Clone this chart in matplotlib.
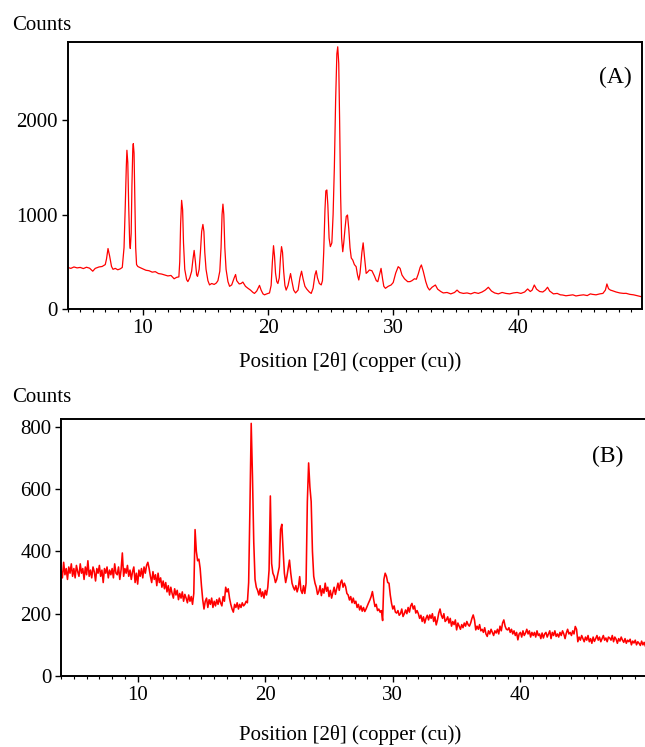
import numpy as np
import matplotlib
matplotlib.use('Agg')
import matplotlib.pyplot as plt
from matplotlib.ticker import MultipleLocator

plt.rcParams['font.family'] = ['Liberation Serif', 'DejaVu Serif']

#------------
# (A) pattern
two_theta_a = [4.0, 4.25, 4.5, 4.75, 5.0, 5.25, 5.5, 5.75, 6.0, 6.2, 6.5, 6.75, 7.0, 7.1, 7.22, 7.35, 7.5, 7.62,
               7.8, 8.0, 8.2, 8.36, 8.5, 8.6, 8.68, 8.73, 8.8, 8.87, 8.95, 9.0, 9.07, 9.13, 9.2, 9.24, 9.3, 9.37,
               9.43, 9.5, 9.6, 9.75, 10.0, 10.25, 10.5, 10.75, 11.0, 11.25, 11.5, 11.75, 12.0, 12.25, 12.5, 12.7,
               12.88, 12.95, 13.02, 13.1, 13.18, 13.25, 13.35, 13.5, 13.6, 13.75, 13.9, 14.0, 14.1, 14.2, 14.3,
               14.37, 14.5, 14.6, 14.7, 14.8, 14.88, 14.95, 15.05, 15.2, 15.33, 15.5, 15.7, 15.87, 16.0, 16.15,
               16.25, 16.33, 16.4, 16.47, 16.55, 16.65, 16.8, 16.93, 17.1, 17.3, 17.41, 17.5, 17.7, 17.85, 17.99,
               18.2, 18.39, 18.6, 18.8, 18.92, 19.1, 19.32, 19.45, 19.6, 19.72, 19.9, 20.12, 20.25, 20.35, 20.44,
               20.52, 20.6, 20.7, 20.79, 20.9, 21.0, 21.08, 21.16, 21.25, 21.35, 21.45, 21.6, 21.8, 21.9, 22.05,
               22.2, 22.4, 22.55, 22.68, 22.8, 22.95, 23.1, 23.3, 23.45, 23.6, 23.75, 23.85, 23.95, 24.1, 24.25,
               24.35, 24.45, 24.55, 24.62, 24.7, 24.78, 24.88, 24.98, 25.1, 25.2, 25.3, 25.4, 25.5, 25.57, 25.65,
               25.72, 25.8, 25.88, 25.97, 26.05, 26.15, 26.25, 26.35, 26.45, 26.55, 26.65, 26.77, 26.9, 27.04,
               27.15, 27.25, 27.35, 27.5, 27.6, 27.7, 27.84, 27.95, 28.1, 28.3, 28.5, 28.65, 28.77, 28.9, 29.03,
               29.15, 29.25, 29.38, 29.6, 29.83, 30.0, 30.2, 30.4, 30.55, 30.7, 30.9, 31.16, 31.35, 31.5, 31.7,
               31.85, 32.0, 32.15, 32.25, 32.4, 32.6, 32.75, 32.9, 33.1, 33.37, 33.55, 33.8, 34.0, 34.3, 34.6,
               34.9, 35.1, 35.3, 35.6, 35.9, 36.2, 36.5, 36.8, 37.1, 37.35, 37.6, 37.85, 38.1, 38.4, 38.7, 39.0,
               39.3, 39.6, 39.9, 40.2, 40.5, 40.74, 40.95, 41.1, 41.27, 41.45, 41.7, 41.95, 42.15, 42.33, 42.5,
               42.8, 43.1, 43.35, 43.53, 43.8, 44.1, 44.35, 44.6, 44.9, 45.2, 45.5, 45.75, 45.92, 46.2, 46.5,
               46.75, 46.95, 47.07, 47.2, 47.35, 47.5, 47.8, 48.1, 48.4, 48.6, 48.9, 49.2, 49.5, 49.8]
counts_a = [440, 430, 445, 435, 440, 428, 442, 432, 400, 430, 445, 450, 470, 530, 640, 560, 450, 420,
            430, 415, 425, 440, 650, 1100, 1500, 1680, 1550, 1100, 700, 640, 800, 1300, 1700, 1750, 1650, 1100,
            650, 470, 450, 440, 425, 410, 405, 390, 395, 375, 370, 360, 350, 355, 320, 335,
            340, 500, 900, 1150, 1050, 700, 420, 310, 290, 330, 400, 520, 620, 500, 360,
            345, 420, 600, 820, 895, 820, 600, 420, 300, 255, 270, 260, 275, 300, 400,
            650, 1000, 1110, 1000, 650, 420, 290, 240, 255, 330, 365, 300, 265, 270, 285,
            240, 220, 200, 175, 165, 190, 250, 200, 160, 150, 160, 170, 250, 500, 670,
            560, 380, 290, 270, 330, 550, 660, 600, 400, 250, 200, 250, 375, 300, 200,
            170, 200, 330, 400, 320, 240, 210, 180, 165, 220, 360, 405, 330, 270, 255,
            300, 600, 1050, 1250, 1260, 1100, 750, 660, 700, 1000, 1500, 2200, 2700, 2775, 2600,
            2000, 1200, 750, 606, 700, 850, 980, 995, 850, 650, 540, 518, 470, 448,
            360, 307, 380, 600, 700, 560, 377, 390, 413, 405, 350, 300, 289, 360, 430,
            320, 240, 219, 240, 254, 280, 380, 448, 430, 360, 320, 289, 290, 300, 320,
            315, 370, 440, 466, 400, 290, 230, 201, 230, 254, 210, 185, 170, 175, 160,
            175, 200, 175, 165, 170, 160, 175, 165, 180, 200, 230, 190, 170, 160, 175, 165,
            160, 170, 175, 165, 180, 212, 185, 200, 254, 210, 185, 180, 200, 230, 190,
            160, 165, 150, 148, 140, 145, 150, 138, 145, 150, 142, 160, 155, 150, 160,
            165, 200, 265, 215, 200, 194, 180, 170, 165, 166, 155, 150, 140, 131]

#------------
# (B) pattern, 0.1 degree steps, one row per degree (4.0 .. 49.9) + 50.0
two_theta_b = np.round(np.arange(4.0, 50.05, 0.1), 2)
counts_b = [
    340, 315, 365, 325, 345, 310, 350, 330, 360, 320,   # 4
    345, 315, 355, 335, 320, 360, 330, 345, 310, 350,   # 5
    325, 370, 320, 340, 315, 350, 335, 305, 345, 330,   # 6
    355, 320, 340, 300, 345, 330, 350, 315, 340, 325,   # 7
    345, 315, 360, 330, 325, 350, 310, 340, 395, 320,   # 8
    345, 330, 355, 320, 340, 310, 335, 350, 300, 330,   # 9
    295, 340, 320, 345, 315, 350, 330, 355, 365, 345,   # 10
    320, 300, 335, 310, 325, 290, 330, 300, 315, 285,   # 11
    305, 280, 300, 270, 290, 260, 285, 265, 250, 280,   # 12
    260, 275, 245, 265, 250, 270, 240, 262, 250, 235,   # 13
    260, 240, 255, 230, 265, 470, 400, 370, 375, 345,   # 14
    290, 245, 215, 240, 250, 220, 245, 230, 250, 220,   # 15
    240, 225, 245, 230, 250, 235, 225, 255, 240, 285,   # 16
    270, 280, 250, 230, 215, 205, 230, 220, 235, 215,   # 17
    230, 220, 235, 225, 230, 240, 235, 300, 540, 811,   # 18
    640, 430, 310, 285, 275, 260, 280, 255, 270, 250,   # 19
    275, 260, 285, 340, 578, 361, 330, 320, 300, 310,   # 20
    330, 350, 470, 487, 404, 330, 300, 320, 345, 372,   # 21
    330, 298, 285, 276, 290, 270, 285, 319, 275, 265,   # 22
    290, 265, 298, 560, 684, 607, 560, 400, 320, 298,   # 23
    285, 262, 271, 290, 258, 280, 266, 298, 272, 285,   # 24
    255, 275, 250, 268, 285, 262, 280, 298, 275, 300,   # 25
    308, 285, 298, 287, 265, 260, 244, 255, 235, 250,   # 26
    233, 240, 220, 230, 212, 225, 208, 220, 207, 215,   # 27
    225, 235, 244, 255, 271, 245, 223, 230, 210, 215,   # 28
    205, 210, 178, 310, 330, 320, 300, 298, 260, 233,   # 29
    215, 225, 205, 202, 210, 195, 200, 215, 191, 200,   # 30
    212, 200, 220, 205, 225, 233, 215, 225, 202, 210,   # 31
    200, 185, 195, 175, 190, 170, 185, 195, 180, 196,   # 32
    185, 200, 175, 190, 164, 180, 202, 215, 195, 185,   # 33
    200, 175, 180, 190, 170, 185, 160, 175, 165, 180,   # 34
    148, 170, 160, 150, 165, 155, 170, 160, 175, 165,   # 35
    160, 170, 185, 196, 180, 148, 160, 150, 165, 145,   # 36
    150, 140, 155, 135, 127, 145, 135, 150, 140, 130,   # 37
    145, 138, 150, 135, 160, 145, 170, 180, 160, 150,   # 38
    148, 155, 140, 150, 135, 145, 130, 140, 116, 135,   # 39
    140, 125, 145, 130, 138, 150, 135, 145, 125, 140,   # 40
    130, 140, 125, 145, 130, 135, 120, 138, 122, 135,   # 41
    140, 125, 135, 145, 120, 140, 130, 145, 127, 135,   # 42
    125, 140, 130, 145, 135, 120, 138, 150, 135, 140,   # 43
    130, 145, 135, 159, 150, 110, 125, 115, 130, 120,   # 44
    110, 125, 115, 130, 110, 120, 105, 125, 111, 120,   # 45
    130, 115, 125, 110, 120, 130, 115, 122, 110, 125,   # 46
    122, 115, 130, 110, 125, 118, 105, 120, 112, 125,   # 47
    115, 108, 120, 105, 115, 110, 118, 100, 112, 106,   # 48
    115, 100, 110, 105, 98, 112, 100, 108, 95, 100,     # 49
    102]

W, H = 645, 747
fig = plt.figure(figsize=(W/100, H/100), dpi=100)

ax_a = fig.add_axes([67.7/W, 1-309/H, (641.7-67.7)/W, (309-41.7)/H])
ax_b = fig.add_axes([61.1/W, 1-676/H, (648-61.1)/W, (676-419)/H])

ax_a.plot(two_theta_a, counts_a, color='#ff0000', lw=0.9)
ax_b.plot(two_theta_b, counts_b, color='#ff0000', lw=1.15)

ax_a.set_xlim(4, 49.85)
ax_a.set_ylim(0, 2829)
ax_a.set_yticks([0, 1000, 2000])
ax_b.set_xlim(4, 50)
ax_b.set_ylim(0, 825)
ax_b.set_yticks([0, 200, 400, 600, 800])

for ax in (ax_a, ax_b):
    ax.set_xticks([10, 20, 30, 40])
    ax.xaxis.set_minor_locator(MultipleLocator(1))
    ax.tick_params(which='major', length=4, width=1, labelsize=15, pad=3)
    ax.tick_params(which='minor', length=2, width=0.8)
    for s in ax.spines.values():
        s.set_linewidth(1.4)

ax_a.text(0.955, 0.865, '(A)', transform=ax_a.transAxes, fontsize=17, ha='center', va='center')
ax_b.text(0.932, 0.856, '(B)', transform=ax_b.transAxes, fontsize=17, ha='center', va='center')

fig.text(12/W, 1-30/H, 'Counts', fontsize=15, ha='left', va='baseline')
fig.text(12/W, 1-401.7/H, 'Counts', fontsize=15, ha='left', va='baseline')
fig.text(350/W, 1-367/H, 'Position [2θ] (copper (cu))', fontsize=15, ha='center', va='baseline')
fig.text(350/W, 1-740/H, 'Position [2θ] (copper (cu))', fontsize=15, ha='center', va='baseline')

plt.savefig('out.png', dpi=100)
